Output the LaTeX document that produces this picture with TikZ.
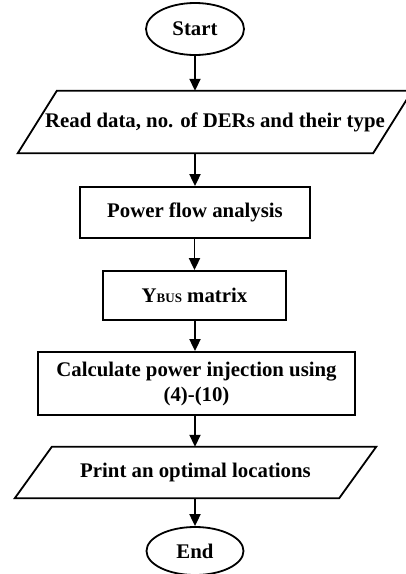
\documentclass[tikz,border=0pt]{standalone}
\usepackage{fontspec}
\setmainfont{Liberation Serif}
\usetikzlibrary{shapes.geometric,arrows.meta}
\tikzset{
  txt/.style={font=\fontsize{20.8}{25}\selectfont\bfseries, align=center, inner sep=0pt},
  term/.style={txt, ellipse, draw, line width=1.8pt, minimum width=98pt, minimum height=52pt},
  procbox/.style={txt, rectangle, draw, line width=1.8pt},
  iobox/.style={txt, rectangle, minimum height=#1},
  arr/.style={line width=1.8pt, -{Triangle[length=12pt,width=11pt]}},
  pline/.style={line width=1.8pt, line join=miter}
}
\begin{document}
\begin{tikzpicture}[x=1pt,y=-1pt]
\useasboundingbox (0,0) rectangle (406,574);
\node[term] (start) at (195,29) {Start};
\node[iobox=62pt, minimum width=355pt] (p1) at (215,122) {Read data, no. of DERs and their type};
\draw[pline] ([xshift=-19.5pt]p1.south west) -- ([xshift=19.5pt]p1.north west) -- ([xshift=19.5pt]p1.north east) -- ([xshift=-19.5pt]p1.south east) -- cycle;
\node[procbox, minimum width=230pt, minimum height=51pt] (pfa) at (195,212.5) {Power flow analysis};
\node[procbox, minimum width=183pt, minimum height=49pt] (ybus) at (194.5,295.5) {Y{\fontsize{13}{13}\selectfont BUS} matrix};
\node[procbox, minimum width=317pt, minimum height=63pt] (calc) at (196.5,383.5) {Calculate power injection using\\(4)-(10)};
\node[iobox=51pt, minimum width=324pt] (p2) at (195.5,472.5) {Print an optimal locations};
\draw[pline] ([xshift=-18.5pt]p2.south west) -- ([xshift=18.5pt]p2.north west) -- ([xshift=18.5pt]p2.north east) -- ([xshift=-18.5pt]p2.south east) -- cycle;
\node[term, minimum width=97pt, minimum height=48pt] (end) at (195,551) {End};
\draw[arr] (start.south) -- (start.south |- p1.north);
\draw[arr] (pfa.north |- p1.south) -- (pfa.north);
\draw[arr] (pfa.south -| ybus.north) -- (ybus.north);
\draw[arr] (ybus.south -| start.south) -- (start.south |- calc.north);
\draw[arr] (start.south |- calc.south) -- (start.south |- p2.north);
\draw[arr] (end.north |- p2.south) -- (end.north);
\end{tikzpicture}
\end{document}
